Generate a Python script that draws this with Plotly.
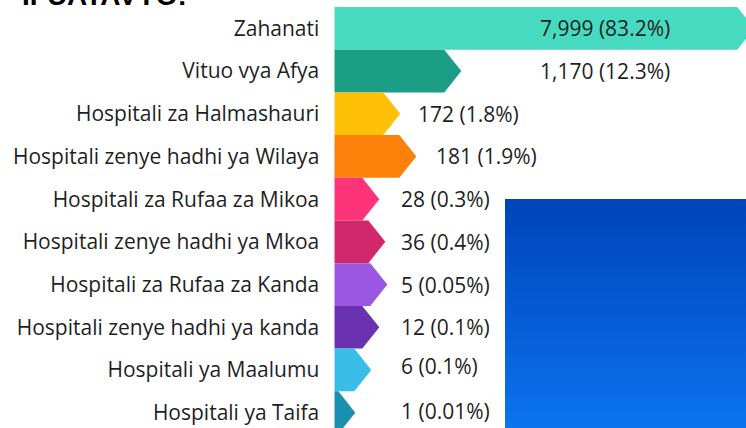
import plotly.graph_objects as go

# ---- data ----
categories = [
    "Zahanati",
    "Vituo vya Afya",
    "Hospitali za Halmashauri",
    "Hospitali zenye hadhi ya Wilaya",
    "Hospitali za Rufaa za Mikoa",
    "Hospitali zenye hadhi ya Mkoa",
    "Hospitali za Rufaa za Kanda",
    "Hospitali zenye hadhi ya kanda",
    "Hospitali ya Maalumu",
    "Hospitali ya Taifa",
]
counts = [7999, 1170, 172, 181, 28, 36, 5, 12, 6, 1]
shares = ["83.2%", "12.3%", "1.8%", "1.9%", "0.3%", "0.4%", "0.05%", "0.1%", "0.1%", "0.01%"]
# bar body lengths as drawn in the picture (not proportional to counts)
shown_lengths = [403, 110, 49, 65, 28, 34, 36, 28, 20, 4]
title_text = "IFUATAVYO:"

# ---- style / layout ----
colors = ["#46DBC1", "#1C9E86", "#FEC107", "#FB810A", "#FE3479",
          "#D0286A", "#9B57E2", "#6A31B1", "#3BBDE9", "#1A90B0"]
label_x = [204, 204, 82, 100, 65, 65, 65, 65, 65, 65]
label_dy = [0, 0, 0, 0, 0, 0, 0, 0, 4, 2]
tip = 17
W, H = 746, 428
bar_left_px = 334.3
top_px = 7
row_px = 42.7
font = "Open Sans"
fs = 21

fig = go.Figure()
for i, (L, c) in enumerate(zip(shown_lengths, colors)):
    xs = [0, L, L + tip, L, 0, 0]
    ys = [i - 0.5, i - 0.5, i, i + 0.5, i + 0.5, i - 0.5]
    fig.add_trace(go.Scatter(x=xs, y=ys, fill="toself", fillcolor=c, mode="lines",
                             line=dict(width=0, color=c), hoverinfo="skip", showlegend=False))

for i, (n, s) in enumerate(zip(counts, shares)):
    fig.add_annotation(x=label_x[i], y=i, yshift=label_dy[i], text=f"{n:,} ({s})",
                       showarrow=False, xanchor="left", yanchor="middle",
                       font=dict(family=font, size=fs, color="#1f1f1f"))

# blue gradient panel (separate full-page axes in paper fraction)
bx0, bx1, by0, by1 = 505 / W, 1.0, 0.0, (H - 199) / H
fig.add_trace(go.Scatter(x=[bx0, bx1, bx1, bx0, bx0], y=[by0, by0, by1, by1, by0],
                         xaxis="x2", yaxis="y2", mode="lines", fill="toself",
                         line=dict(width=0),
                         fillgradient=dict(type="vertical",
                                           colorscale=[[0, "#0B74EE"], [1, "#0043BB"]]),
                         hoverinfo="skip", showlegend=False))

xrange_units = W - bar_left_px
visible_rows = (H - top_px) / row_px
fig.update_layout(
    width=W, height=H,
    margin=dict(l=0, r=0, t=0, b=0),
    paper_bgcolor="white", plot_bgcolor="rgba(0,0,0,0)",
    xaxis=dict(domain=[bar_left_px / W, 1], range=[0, xrange_units], visible=False,
               fixedrange=True),
    yaxis=dict(domain=[0, (H - top_px) / H], range=[visible_rows - 0.5, -0.5],
               tickmode="array", tickvals=list(range(len(categories))), ticktext=categories,
               showgrid=False, zeroline=False, showline=False, ticks="",
               ticklabelstandoff=14, automargin=False,
               tickfont=dict(family=font, size=fs, color="#1f1f1f")),
    xaxis2=dict(domain=[0, 1], range=[0, 1], visible=False, anchor="y2"),
    yaxis2=dict(domain=[0, 1], range=[0, 1], visible=False, anchor="x2"),
    annotations=list(fig.layout.annotations) + [
        dict(text=f"<b>{title_text}</b>", xref="paper", yref="paper", x=20 / W, y=1,
             yshift=-13, xanchor="left", yanchor="bottom", showarrow=False,
             font=dict(family="Liberation Sans", size=28, color="#000000"))
    ],
)

fig.write_html("out.html", config={"displayModeBar": False})
